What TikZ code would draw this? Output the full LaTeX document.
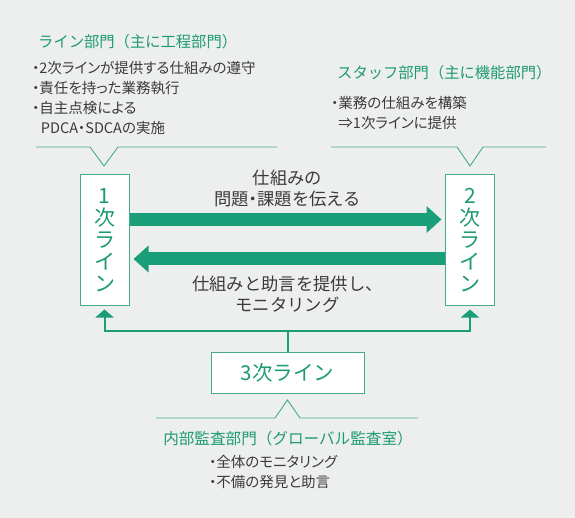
\documentclass[tikz,border=0pt]{standalone}
\usepackage{fontspec}
\setmainfont{Noto Sans CJK JP}[RawFeature=+palt]
\newfontfamily\plainjp{Noto Sans CJK JP}
\usepackage{tikz}
\usetikzlibrary{arrows.meta,calc,positioning}
\definecolor{paper}{HTML}{EDEFEE}
\definecolor{linegreen}{HTML}{1A9E78}
\definecolor{framegreen}{HTML}{45AB88}
\definecolor{headgreen}{HTML}{1C9A70}
\definecolor{ink}{HTML}{3A3A3A}

\tikzset{
  linebox/.style={draw=framegreen, fill=white, line width=1pt, inner sep=0pt, text=headgreen},
  head/.style={text=headgreen, anchor=base west, inner sep=0pt, font=\plainjp\fontsize{15.3}{18}\selectfont},
  note/.style={text=ink, anchor=base west, inner sep=0pt, align=left, font=\fontsize{14.5}{20}\selectfont},
  msg/.style={text=ink, anchor=base, inner sep=0pt, align=center, font=\plainjp\fontsize{17.3}{21}\selectfont},
  fatarrow/.style={draw=linegreen, line width=13pt, -{Triangle[length=15pt,width=26pt]}},
  feedarrow/.style={draw=linegreen, line width=2pt, -{Triangle[length=8pt,width=18pt]}},
  notch/.style={draw=framegreen, line width=0.9pt}
}

\begin{document}
\begin{tikzpicture}[x=1pt,y=-1pt]
    % Background
    \fill[paper] (0,0) rectangle (575,518);

    % The three lines
    \node[linebox, minimum width=49pt, minimum height=131pt, align=center,
          font=\plainjp\fontsize{21}{22}\selectfont] (line1) at (104.5,240.5) {1\\次\\ラ\\イ\\ン};
    \node[linebox, minimum width=49pt, minimum height=131pt, align=center,
          font=\plainjp\fontsize{21}{22}\selectfont] (line2) at (470,240.5) {2\\次\\ラ\\イ\\ン};
    \node[linebox, minimum width=153pt, minimum height=41pt,
          font=\plainjp\fontsize{20.5}{24}\selectfont] (line3) at (287.5,372.5) {3次ライン};

    % Thick arrows between 1st and 2nd line
    \draw[fatarrow, shorten >=3.5pt] ($(line1.east)+(0,-21)$) -- ($(line2.west)+(0,-21)$);
    \draw[fatarrow, shorten >=4pt] ($(line2.west)+(0,18.5)$) -- ($(line1.east)+(0,18.5)$);

    % Messages on the arrows (base = last line)
    \node[msg] (ask) at (287.5,205.5) {仕組みの\\問題{\rmfamily ・}課題を伝える};
    \node[msg] (reply) at (287.5,311.5) {仕組みと助言を提供し、\\モニタリング};

    % 3rd line reports to both
    \coordinate (hub) at ($(line3.north)+(0,-21)$);
    \draw[linegreen, line width=2pt] (line3.north) -- (hub);
    \draw[feedarrow, shorten >=3pt] (hub) -| (line1.south);
    \draw[feedarrow, shorten >=3pt] (hub) -| (line2.south);

    % Notched rules
    \draw[notch] (36,147) -- (90,147) -- (104,166) -- (118,147) -- (277,147);
    \draw[notch] (331,147) -- (457,147) -- (470,166) -- (483,147) -- (546,147);
    \draw[notch] (156,418) -- (275,418) -- (287.5,400) -- (300,418) -- (418,418);

    % Department labels
    \node[head] (firsthead) at (38,47.7) {ライン部門（主に工程部門）};
    \node[note] (firstnote) at (32,133.5) {・2次ラインが提供する仕組みの遵守\\
        ・責任を持った業務執行\\・自主点検による\\\hspace*{0.6em}PDCA・SDCAの実施};

    \node[head] (secondhead) at (337,78.7) {スタッフ部門（主に機能部門）};
    \node[note] (secondnote) at (331,128.5) {・業務の仕組みを構築\\\hspace*{0.5em}⇒1次ラインに提供};

    \node[head, anchor=base, font=\plainjp\fontsize{15.6}{18}\selectfont] (thirdhead) at (288,444) {内部監査部門（グローバル監査室）};
    \node[note] (thirdnote) at (209,487.5) {・全体のモニタリング\\・不備の発見と助言};

\end{tikzpicture}
\end{document}
